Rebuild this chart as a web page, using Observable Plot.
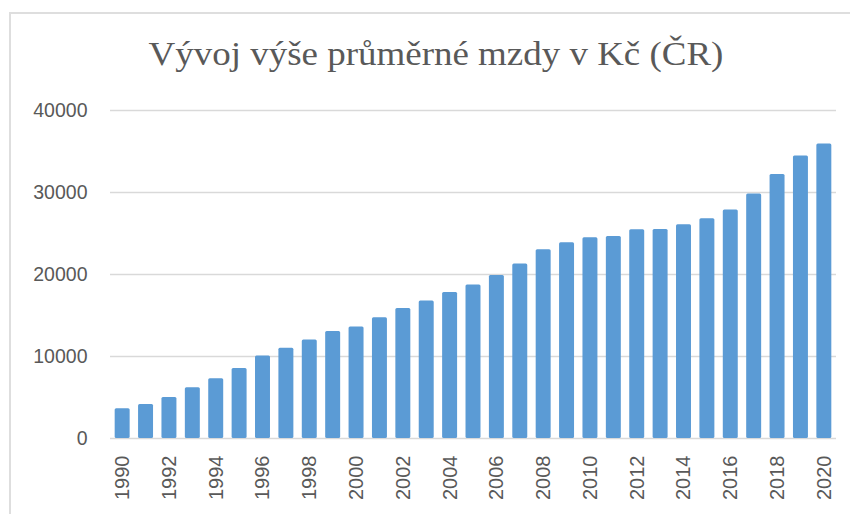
<!DOCTYPE html>
<html><head><meta charset="utf-8">
<script src="https://cdn.jsdelivr.net/npm/d3@7"></script>
<script src="https://cdn.jsdelivr.net/npm/@observablehq/plot@0.6"></script>
<style>
html,body{margin:0;padding:0;background:#fff;overflow:hidden;}
#wrap{position:relative;width:850px;height:514px;overflow:hidden;background:#fff;}
#frame{position:absolute;left:9px;top:12px;width:900px;height:600px;border-left:2px solid #dedede;border-top:2px solid #dedede;}
#title{position:absolute;left:9px;width:854px;top:38px;text-align:center;font-family:"Liberation Serif","Times New Roman",serif;font-size:33px;line-height:33px;color:#595959;white-space:nowrap;transform:scaleX(1.12);transform-origin:50% 50%;}
#chart{position:absolute;left:0;top:0;}
</style></head>
<body><div id="wrap"><div id="frame"></div><div id="chart"></div><div id="title">Vývoj výše průměrné mzdy v Kč (ČR)</div></div>
<script>
const years = [1990,1991,1992,1993,1994,1995,1996,1997,1998,1999,2000,2001,2002,2003,2004,2005,2006,2007,2008,2009,2010,2011,2012,2013,2014,2015,2016,2017,2018,2019,2020];
const wages = [3620,4160,5010,6180,7280,8540,10070,11010,12020,13040,13600,14740,15840,16770,17790,18710,19890,21270,23020,23870,24480,24640,25450,25490,26060,26790,27880,29830,32180,34450,35910];
const yTicks = [0,10000,20000,30000,40000];
const xTicks = [1990,1992,1994,1996,1998,2000,2002,2004,2006,2008,2010,2012,2014,2016,2018,2020];

const data = years.map((year, i) => ({year, wage: wages[i]}));

const chart = Plot.plot({
  width: 850,
  height: 514,
  marginLeft: 110,
  marginRight: 14,
  marginTop: 110,
  marginBottom: 76,
  style: {background: "transparent", fontFamily: "'Liberation Sans', Arial, sans-serif", fontSize: "19px", color: "#595959"},
  x: {type: "band", domain: years, paddingInner: 0.36, paddingOuter: 0.2, round: false, label: null},
  y: {domain: [0, 40000], label: null},
  marks: [
    Plot.ruleY(yTicks, {stroke: "#d9d9d9", strokeWidth: 1.6}),
    Plot.barY(data, {x: "year", y: "wage", fill: "#5b9bd5", rx: 1.5}),
    Plot.axisY(yTicks, {tickSize: 0, tickPadding: 23, tickFormat: d3.format("d"), label: null, fontSize: 19.5}),
    Plot.axisX(xTicks, {tickSize: 0, tickPadding: 17, tickRotate: -90, tickFormat: d => String(d), label: null, fontSize: 20})
  ]
});
document.getElementById("chart").appendChild(chart);
</script>
</body></html>
